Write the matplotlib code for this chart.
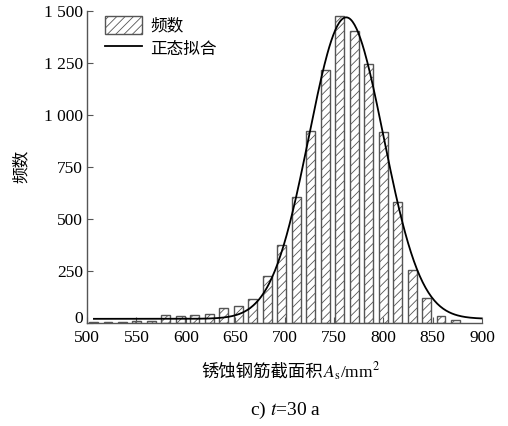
import numpy as np
import matplotlib
matplotlib.use("Agg")
import matplotlib.pyplot as plt
from matplotlib.ticker import FuncFormatter
from matplotlib.transforms import ScaledTranslation

plt.rcParams['font.family'] = ['Liberation Serif', 'Noto Sans CJK SC']
plt.rcParams['hatch.linewidth'] = 0.6
plt.rcParams['mathtext.fontset'] = 'stix'

# histogram bins (centres, mm^2) and counts
bin_centers = [506.5, 521.2, 535.8, 550.5, 565.2, 579.8, 594.5, 609.2, 623.9,
               638.5, 653.2, 667.9, 682.5, 697.2, 711.9, 726.5, 741.2, 755.9,
               770.5, 785.2, 799.9, 814.5, 829.2, 843.9, 858.5, 873.2]
counts = [5, 4, 7, 11, 11, 37, 35, 37, 42,
          71, 80, 115, 226, 375, 607, 924, 1215, 1474,
          1404, 1242, 919, 580, 255, 119, 35, 13]
bar_width = 9.0

# normal fit parameters (offset gaussian)
fit_y0 = 20
fit_amp = 1448
fit_mu = 762.5
fit_sigma = 37.7
fit_xmin, fit_xmax = 507, 900

fig = plt.figure(figsize=(5.08, 4.26), dpi=100)
ax = fig.add_axes([0.1713, 0.2418, 0.7775, 0.7331])

bars = ax.bar(bin_centers, counts, width=bar_width, facecolor='white',
              edgecolor='#555555', linewidth=1.0, hatch='////')

xf = np.linspace(fit_xmin, fit_xmax, 400)
yf = fit_y0 + fit_amp * np.exp(-(xf - fit_mu) ** 2 / (2 * fit_sigma ** 2))
line, = ax.plot(xf, yf, color='black', linewidth=1.3)

ax.set_xlim(500, 900)
ax.set_ylim(0, 1500)
ax.set_xticks(np.arange(500, 901, 50))
ax.set_yticks(np.arange(0, 1501, 250))
ax.yaxis.set_major_formatter(FuncFormatter(
    lambda v, p: f"{int(v):,}".replace(",", " ")))

for s in ['top', 'right']:
    ax.spines[s].set_visible(False)
for s in ['left', 'bottom']:
    ax.spines[s].set_color('#555555')
    ax.spines[s].set_linewidth(1.0)
ax.tick_params(direction='in', length=4, width=0.8, color='#555555',
               labelsize=12.5)
ax.tick_params(axis='x', pad=5)
ax.tick_params(axis='y', pad=3)

# lift the "0" label a little, as in the original
fig.canvas.draw()
zero_lab = ax.yaxis.get_majorticklabels()[0]
zero_lab.set_transform(zero_lab.get_transform() +
                       ScaledTranslation(0, 4 / 72, fig.dpi_scale_trans))

ax.set_ylabel('频数', fontsize=12, labelpad=10)

# x label: chinese part + math part
fig.text(0.635, 0.127, '锈蚀钢筋截面积', ha='right', va='center',
         fontsize=12.5, family=['Noto Sans CJK SC'])
fig.text(0.635, 0.127, r'$A_{\rm s}$/mm$^2$', ha='left', va='center',
         fontsize=12.5, family=['Liberation Serif'])

leg = ax.legend([bars, line], ['频数', '正态拟合'], loc='upper left',
                bbox_to_anchor=(0.02, 1.015), frameon=False,
                prop={'size': 12}, handlelength=2.2,
                handleheight=1.3, handletextpad=0.5, labelspacing=0.25,
                borderaxespad=0.2)

fig.text(0.563, 0.037, r'c) $t$=30 a', ha='center', va='center', fontsize=14)

fig.savefig('out.png', dpi=100)
